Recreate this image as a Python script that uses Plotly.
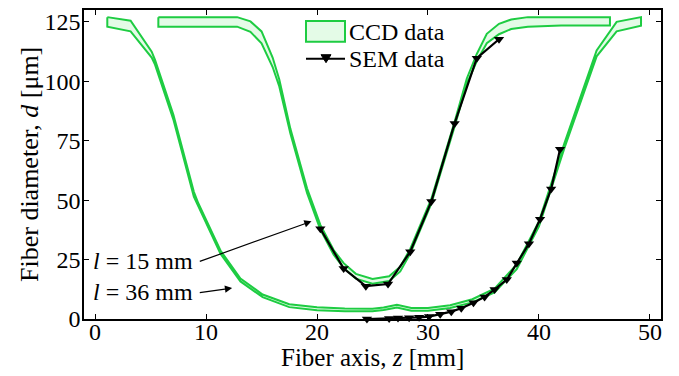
import plotly.graph_objects as go

# ---- CCD data, taper l = 15 mm (upper / lower envelope) ----
z_ccd15 = [5.7, 9, 12.8, 14, 15, 16, 16.6, 17.6, 19.1, 20.3, 21.5, 22.4, 23.5, 25, 26.5, 27.5,
           28.4, 30.3, 32.4, 33.5, 34.4, 35.3, 36.4, 37.5, 39, 42, 46.4]
d_ccd15_up = [127, 127, 127, 125.2, 121, 110, 100.8, 80, 55, 39.6, 29, 23.5, 19, 16.8, 18, 22,
              29.5, 50.5, 83, 101.2, 111.5, 120, 124.2, 126, 127, 127, 127]
d_ccd15_lo = [123, 123, 123, 120.8, 116, 106, 97.8, 78, 53, 37.6, 27, 21.5, 17, 14.8, 16, 20,
              27.5, 48.5, 81, 98.8, 108.5, 116, 119.8, 122, 123, 123.5, 123.5]

# ---- CCD data, taper l = 36 mm ----
z_ccd36 = [1.1, 3.2, 5.1, 5.4, 7.05, 8.9, 9.3, 11.3, 13.1, 15.1, 17.5, 20, 22.5, 25, 26, 27.2,
           28.5, 30, 32, 34, 36, 38, 40, 42.3, 45.2, 47.0, 49.2]
d_ccd36_up = [127, 125.5, 112.5, 109, 86, 53.5, 48.7, 28.8, 17, 10.3, 6.2, 4.9, 4.4, 4.3, 4.8, 6.0,
              4.6, 4.6, 5.8, 8.3, 12.8, 23, 41, 74, 113, 125, 127]
d_ccd36_lo = [123, 121, 110, 107, 84, 51.5, 47.3, 27.5, 15.8, 9.2, 5.0, 3.7, 3.3, 3.3, 3.8, 4.8,
              3.5, 3.5, 4.6, 7.0, 11.2, 21, 39, 72, 110.5, 121, 123.4]

# ---- SEM data ----
z_sem15 = [20.3, 22.4, 24.4, 26.4, 28.4, 30.3, 32.4, 34.4, 36.4]
d_sem15 = [38, 21.2, 13.8, 14.7, 28.3, 49.4, 82.3, 109.7, 117.7]

z_sem36 = [24.5, 26.5, 27.3, 28.3, 29.2, 30.1, 31.1, 32.1, 33.0, 34.1, 35.1, 36.0, 37.1, 38.0,
           39.1, 40.1, 41.1, 41.9]
d_sem36 = [0, 0.2, 0.4, 0.5, 0.7, 1.0, 2.0, 3.1, 4.5, 6.8, 9.3, 12.4, 16.6, 23.6, 31.7, 42, 54.7, 71.4]

x_ticks = [0, 10, 20, 30, 40, 50]
y_ticks = [0, 25, 50, 75, 100, 125]

GREEN = "rgb(30,204,66)"
FILL = "rgb(228,251,231)"
FONT = "Liberation Serif, Times New Roman, serif"

fig = go.Figure()

def band(z, up, lo):
    fig.add_trace(go.Scatter(
        x=list(z) + list(z[::-1]) + [z[0]],
        y=list(up) + list(lo[::-1]) + [up[0]],
        mode="lines", fill="toself", fillcolor=FILL,
        line=dict(color=GREEN, width=2),
        name="CCD data", showlegend=False, hoverinfo="skip"))

band(z_ccd36, d_ccd36_up, d_ccd36_lo)
band(z_ccd15, d_ccd15_up, d_ccd15_lo)

for zz, dd in [(z_sem15, d_sem15), (z_sem36, d_sem36)]:
    fig.add_trace(go.Scatter(
        x=zz, y=dd, mode="lines+markers", name="SEM data",
        line=dict(color="black", width=2.2),
        marker=dict(symbol="triangle-down", size=9, color="black"),
        showlegend=False, cliponaxis=False))

# ---- helpers for pixel -> paper coordinates (plot area 84..661 x 8..319) ----
def px(x):
    return (x - 84) / 577.0

def py(y):
    return (319 - y) / 311.0

# ---- legend (drawn manually to get the boxed CCD swatch) ----
fig.add_shape(type="rect", xref="paper", yref="paper", x0=px(306), x1=px(345), y0=py(40), y1=py(19),
              line=dict(color=GREEN, width=2), fillcolor=FILL)
fig.add_shape(type="line", xref="paper", yref="paper", x0=px(306), x1=px(345), y0=py(57), y1=py(57),
              line=dict(color="black", width=2))
fig.add_shape(type="path", xref="paper", yref="paper",
              path=f"M {px(321)} {py(53)} L {px(331)} {py(53)} L {px(326)} {py(61)} Z",
              line=dict(color="black", width=1), fillcolor="black")
fig.add_annotation(x=px(347), y=py(30), xref="paper", yref="paper", text="CCD data", showarrow=False,
                   xanchor="left", yanchor="middle", font=dict(size=24, family=FONT, color="black"))
fig.add_annotation(x=px(347), y=py(57), xref="paper", yref="paper", text="SEM data", showarrow=False,
                   xanchor="left", yanchor="middle", font=dict(size=24, family=FONT, color="black"))

# ---- axis titles ----
fig.add_annotation(x=0.5, y=py(358), xref="paper", yref="paper", text="Fiber axis, <i>z</i> [mm]",
                   showarrow=False, xanchor="center", yanchor="middle",
                   font=dict(size=25, family=FONT, color="black"))
fig.add_annotation(x=px(30), y=py(164), xref="paper", yref="paper", text="Fiber diameter, <i>d</i> [μm]",
                   showarrow=False, xanchor="center", yanchor="middle", textangle=-90,
                   font=dict(size=26, family=FONT, color="black"))

# ---- taper-length labels with arrows ----
fig.add_annotation(x=9.0, y=24.5, xref="x", yref="y", text="<i>l</i> = 15 mm",
                   showarrow=False, xanchor="right", font=dict(size=24, family=FONT, color="black"))
fig.add_annotation(x=9.0, y=11.5, xref="x", yref="y", text="<i>l</i> = 36 mm",
                   showarrow=False, xanchor="right", font=dict(size=24, family=FONT, color="black"))
fig.add_annotation(x=19.5, y=41.1, ax=9.3, ay=24, xref="x", yref="y", axref="x", ayref="y",
                   text="", showarrow=True, arrowhead=2, arrowsize=1.2, arrowwidth=1.2, arrowcolor="black")
fig.add_annotation(x=12.35, y=13.0, ax=9.3, ay=11.0, xref="x", yref="y", axref="x", ayref="y",
                   text="", showarrow=True, arrowhead=2, arrowsize=1.2, arrowwidth=1.2, arrowcolor="black")

axis_common = dict(showline=True, linecolor="black", linewidth=1.5, mirror="ticks",
                   ticks="inside", ticklen=5, tickcolor="black", showgrid=False, zeroline=False,
                   tickfont=dict(size=24, family=FONT, color="black"))

fig.update_xaxes(range=[-1, 51], tickvals=x_ticks, ticklabelstandoff=-10, **axis_common)
fig.update_yaxes(range=[0, 130], tickvals=y_ticks, ticklabelstandoff=-3, **axis_common)

fig.update_layout(
    width=679, height=376, margin=dict(l=84, r=18, t=8, b=57),
    plot_bgcolor="white", paper_bgcolor="white",
    font=dict(family=FONT, size=24, color="black"),
    showlegend=False,
)

fig.write_html("out.html")
